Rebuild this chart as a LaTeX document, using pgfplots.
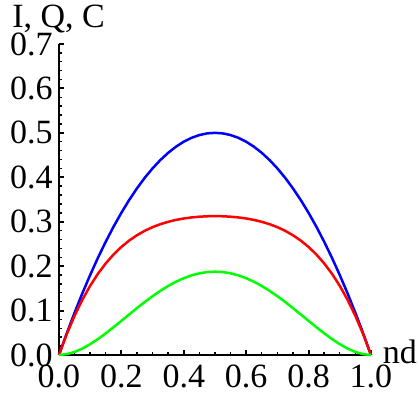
\documentclass[border=0pt]{standalone}
\usepackage{fontspec}
\setmainfont{Liberation Serif}
\usepackage{pgfplots}
\usepackage{pgfplotstable}
\pgfplotsset{compat=1.18}

% x, I (blue), Q (red), C (green)
\pgfplotstableread{
x     b      r      g
0     0      0      0
0.025 0.0488 0.0470 0.0018
0.05  0.0950 0.0882 0.0068
0.075 0.1388 0.1243 0.0144
0.1   0.1800 0.1557 0.0243
0.125 0.2188 0.1829 0.0359
0.15  0.2550 0.2062 0.0488
0.175 0.2888 0.2262 0.0625
0.2   0.3200 0.2432 0.0768
0.225 0.3488 0.2575 0.0912
0.25  0.3750 0.2695 0.1055
0.275 0.3988 0.2795 0.1193
0.3   0.4200 0.2877 0.1323
0.325 0.4388 0.2944 0.1444
0.35  0.4550 0.2997 0.1553
0.375 0.4688 0.3040 0.1648
0.4   0.4800 0.3072 0.1728
0.425 0.4888 0.3096 0.1792
0.45  0.4950 0.3112 0.1838
0.475 0.4988 0.3122 0.1866
0.5   0.5000 0.3125 0.1875
0.525 0.4988 0.3122 0.1866
0.55  0.4950 0.3112 0.1838
0.575 0.4888 0.3096 0.1792
0.6   0.4800 0.3072 0.1728
0.625 0.4688 0.3040 0.1648
0.65  0.4550 0.2997 0.1553
0.675 0.4388 0.2944 0.1444
0.7   0.4200 0.2877 0.1323
0.725 0.3988 0.2795 0.1193
0.75  0.3750 0.2695 0.1055
0.775 0.3488 0.2575 0.0912
0.8   0.3200 0.2432 0.0768
0.825 0.2888 0.2262 0.0625
0.85  0.2550 0.2062 0.0488
0.875 0.2188 0.1829 0.0359
0.9   0.1800 0.1557 0.0243
0.925 0.1388 0.1243 0.0144
0.95  0.0950 0.0882 0.0068
0.975 0.0488 0.0470 0.0018
1     0      0      0
}\curves

\begin{document}
\begin{tikzpicture}
\begin{axis}[
  scale only axis, width=156pt, height=155.5pt,
  xmin=0, xmax=1, ymin=0, ymax=0.7, enlargelimits=false,
  axis lines=left, axis line style={-, line width=1.2pt},
  tick align=inside,
  xtick={0,0.2,...,1.0}, ytick={0,0.1,...,0.7},
  minor x tick num=3, minor y tick num=4,
  major tick length=2.6pt, minor tick length=1.3pt,
  every major tick/.style={line width=1pt, black},
  every minor tick/.style={line width=0.7pt, black},
  /pgf/number format/.cd, fixed, fixed zerofill, precision=1, assume math mode=true, /pgfplots/.cd,
  tick label style={font=\fontsize{17}{20}\selectfont, inner sep=0pt},
  xticklabel style={anchor=north, yshift=-5pt},
  yticklabel style={anchor=east, xshift=-3pt},
  clip=false,
]
\addplot[blue, line width=1.25pt] table[x=x, y=b] {\curves};
\addplot[red, line width=1.25pt] table[x=x, y=r] {\curves};
\addplot[green, line width=1.25pt] table[x=x, y=g] {\curves};
\node[anchor=base west, inner sep=0pt, font=\fontsize{17}{20}\selectfont, xshift=-23.5pt, yshift=8pt] at (rel axis cs:0,1) {I, Q, C};
\node[anchor=base west, inner sep=0pt, font=\fontsize{17}{20}\selectfont, xshift=5.8pt, yshift=-4.5pt] at (rel axis cs:1,0) {nd};
\coordinate (bl) at (rel axis cs:-0.189,-0.1415);
\coordinate (tr) at (rel axis cs:1.154,1.1415);
\end{axis}
\pgfresetboundingbox
\path (bl) rectangle (tr);
\end{tikzpicture}
\end{document}
